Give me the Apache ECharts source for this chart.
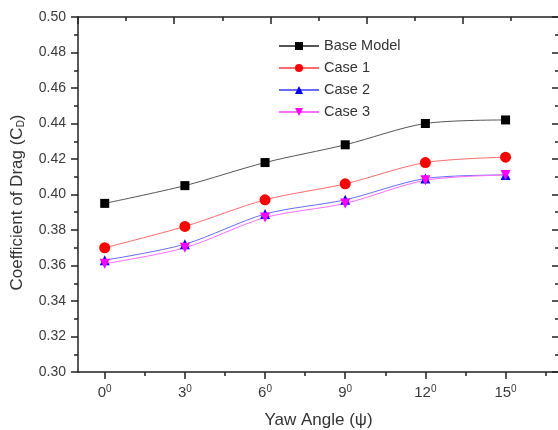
<!DOCTYPE html>
<html>
<head>
<meta charset="utf-8">
<script src="https://cdn.jsdelivr.net/npm/echarts@6/dist/echarts.min.js"></script>
<style>
  html, body { margin: 0; padding: 0; background: #fff; }
  #chart { width: 558px; height: 430px; }
</style>
</head>
<body>
<div id="chart"></div>
<script>
// Yaw angles (degrees) and drag coefficients
const yawAngles = [0, 3, 6, 9, 12, 15];
const baseModel = [0.395, 0.405, 0.418, 0.428, 0.440, 0.442];
const case1 = [0.370, 0.382, 0.397, 0.406, 0.418, 0.421];
const case2 = [0.363, 0.372, 0.389, 0.397, 0.409, 0.411];
const case3 = [0.361, 0.370, 0.387, 0.395, 0.408, 0.411];
const seriesNames = ["Base Model", "Case 1", "Case 2", "Case 3"];

const majorX = [0, 3, 6, 9, 12, 15];
const minorX = [1.5, 4.5, 7.5, 10.5, 13.5, 16.5];

const axisColor = "#222";
const labelColor = "#3a3a3a";
const font = '"Liberation Sans", Arial, sans-serif';

function pairs(values) {
  return values.map((v, i) => [yawAngles[i], v]);
}

function makeSeries(name, values, color, lineColor, symbol, size, rotate) {
  return {
    name: name,
    type: "line",
    xAxisIndex: 0,
    yAxisIndex: 0,
    data: pairs(values),
    smooth: 0.3,
    symbol: symbol,
    symbolSize: size,
    symbolRotate: rotate || 0,
    showAllSymbol: true,
    lineStyle: { color: lineColor, width: 1 },
    itemStyle: { color: color },
    emphasis: { disabled: true },
    z: 3,
  };
}

const chart = echarts.init(document.getElementById("chart"));

const option = {
  animation: false,
  backgroundColor: "#fff",
  textStyle: { fontFamily: font },
  grid: { left: 78, right: -1, top: 17, bottom: 58, containLabel: false, outerBoundsMode: "none" },
  legend: {
    orient: "vertical",
    left: 273,
    top: 33,
    itemWidth: 40,
    itemHeight: 10,
    itemGap: 6,
    data: seriesNames,
    textStyle: { fontSize: 14.5, color: "#333", lineHeight: 16, fontFamily: font },
  },
  xAxis: [
    {
      type: "value",
      min: -1,
      max: 17,
      position: "bottom",
      name: "Yaw Angle (ψ)",
      nameLocation: "middle",
      nameGap: 40,
      nameTextStyle: { fontSize: 17, color: "#333", fontFamily: font },
      axisLine: { show: true, onZero: false, lineStyle: { color: axisColor, width: 1.5 } },
      axisTick: { show: true, inside: false, length: 7, customValues: majorX, lineStyle: { color: axisColor, width: 1.5 } },
      axisLabel: {
        customValues: majorX,
        margin: 12,
        formatter: (v) => "{n|" + v + "}{s|0}",
        rich: {
          n: { fontSize: 15, color: labelColor, fontFamily: font },
          s: { fontSize: 10, color: labelColor, fontFamily: font, verticalAlign: "top", padding: [0, 0, 8, 0] },
        },
      },
      splitLine: { show: false },
    },
    {
      type: "value",
      min: -1,
      max: 17,
      position: "bottom",
      axisLine: { show: false },
      axisTick: { show: true, inside: false, length: 4, customValues: minorX, lineStyle: { color: axisColor, width: 1.5 } },
      axisLabel: { show: false },
      splitLine: { show: false },
    },
    {
      type: "value",
      min: 0,
      max: 5,
      interval: 1,
      position: "top",
      axisLine: { show: true, onZero: false, lineStyle: { color: axisColor, width: 1.5 } },
      axisTick: { show: true, inside: true, length: 7, lineStyle: { color: axisColor, width: 1.5 } },
      minorTick: { show: true, splitNumber: 2, length: 4, lineStyle: { color: axisColor, width: 1.5 } },
      axisLabel: { show: false },
      splitLine: { show: false },
    },
  ],
  yAxis: [
    {
      type: "value",
      min: 0.3,
      max: 0.5,
      interval: 0.02,
      position: "left",
      name: "{t|Coefficient of Drag (C}{d|D}{t|)}",
      nameLocation: "middle",
      nameGap: 52,
      nameTextStyle: {
        padding: [0, 16, 0, 0],
        rich: {
          t: { fontSize: 17, color: "#333", fontFamily: font },
          d: { fontSize: 10, color: "#333", fontFamily: font, verticalAlign: "bottom", padding: [8, 0, 0, 0] },
        },
      },
      axisLine: { show: true, onZero: false, lineStyle: { color: axisColor, width: 1.5 } },
      axisTick: { show: true, inside: false, length: 7, lineStyle: { color: axisColor, width: 1.5 } },
      minorTick: { show: true, splitNumber: 2, length: 4, lineStyle: { color: axisColor, width: 1.5 } },
      axisLabel: {
        fontSize: 14,
        color: labelColor,
        margin: 12,
        formatter: (v) => v.toFixed(2),
      },
      splitLine: { show: false },
    },
    {
      type: "value",
      min: 0.3,
      max: 0.5,
      interval: 0.02,
      position: "right",
      axisLine: { show: true, onZero: false, lineStyle: { color: axisColor, width: 1.5 } },
      axisTick: { show: true, inside: true, length: 7, lineStyle: { color: axisColor, width: 1.5 } },
      minorTick: { show: true, splitNumber: 2, length: 4, lineStyle: { color: axisColor, width: 1.5 } },
      axisLabel: { show: false },
      splitLine: { show: false },
    },
  ],
  series: [
    makeSeries(seriesNames[0], baseModel, "#000000", "#555555", "rect", 9),
    makeSeries(seriesNames[1], case1, "#ff0000", "#ff6a6a", "circle", 11),
    makeSeries(seriesNames[2], case2, "#0000ff", "#6a6aff", "triangle", 10),
    makeSeries(seriesNames[3], case3, "#ff00ff", "#ff6aff", "triangle", 10, 180),
  ],
};

chart.setOption(option);
</script>
</body>
</html>
